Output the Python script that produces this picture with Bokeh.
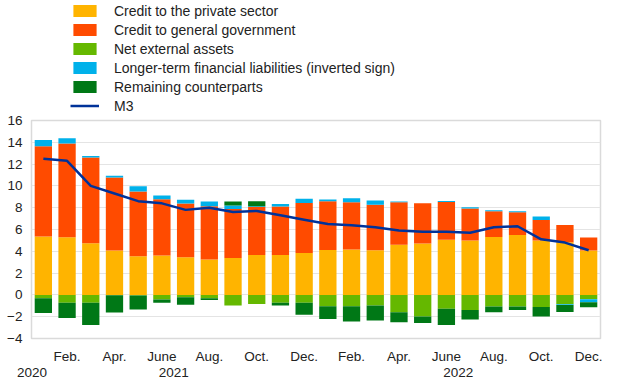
import numpy as np
from bokeh.plotting import figure
from bokeh.layouts import column
from bokeh.models import (ColumnDataSource, Range1d, FixedTicker, LinearAxis,
                          Legend, LegendItem)
from bokeh.embed import file_html
from bokeh.resources import INLINE

# ---- data (annual growth contributions, percentage points) ----
month_index = list(range(24))  # Jan 2021 ... Dec 2022
month_ticks = [1, 3, 5, 7, 9, 11, 13, 15, 17, 19, 21, 23]
month_labels = ["Feb.", "Apr.", "June", "Aug.", "Oct.", "Dec.",
                "Feb.", "Apr.", "June", "Aug.", "Oct.", "Dec."]
year_ticks = [-0.48, 5.5, 17.5]
year_labels = ["2020", "2021", "2022"]
y_ticks = [-4, -2, 0, 2, 4, 6, 8, 10, 12, 14, 16]

private_sector = [5.35, 5.29, 4.74, 4.07, 3.55, 3.61, 3.46, 3.24, 3.39, 3.67, 3.67, 3.85,
                  4.13, 4.16, 4.10, 4.59, 4.71, 5.05, 4.98, 5.32, 5.50, 4.98, 4.83, 4.07]
general_government = [8.29, 8.59, 7.86, 6.69, 5.93, 5.17, 4.92, 4.89, 4.50, 4.40, 4.43, 4.59,
                      4.46, 4.34, 4.16, 3.91, 3.70, 3.48, 2.94, 2.36, 2.08, 1.90, 1.59, 1.19]
net_external_assets = [-0.31, -0.73, -0.73, -0.03, -0.05, -0.43, -0.21, -0.31, -0.98, -0.83, -0.73, -0.73,
                       -1.04, -1.04, -0.98, -1.59, -1.99, -1.28, -1.38, -1.07, -1.07, -1.10, -0.86, -0.40]
longer_term_liabilities = [0.58, 0.49, 0.15, 0.18, 0.49, 0.34, 0.34, 0.43, 0.31, 0.06, 0.25, 0.37,
                           0.16, 0.37, 0.39, 0.06, 0.0, 0.09, 0.12, 0.09, 0.09, 0.31, -0.06, -0.28]
remaining_counterparts = [-1.34, -1.38, -2.02, -1.59, -1.28, -0.30, -0.70, -0.15, 0.37, 0.46, -0.25, -1.10,
                          -1.16, -1.41, -1.37, -0.92, -0.58, -1.47, -0.88, -0.52, -0.31, -0.89, -0.64, -0.45]
m3 = [12.5, 12.3, 10.0, 9.3, 8.6, 8.4, 7.8, 8.0, 7.6, 7.7, 7.3, 6.9,
      6.5, 6.4, 6.2, 5.9, 5.8, 5.8, 5.7, 6.2, 6.3, 5.1, 4.8, 4.1]

series = [
    ("Credit to the private sector", private_sector, "#FFB400"),
    ("Credit to general government", general_government, "#FF4B00"),
    ("Net external assets", net_external_assets, "#65B800"),
    ("Longer-term financial liabilities (inverted sign)", longer_term_liabilities, "#00B1EA"),
    ("Remaining counterparts", remaining_counterparts, "#007816"),
]
M3_COLOR = "#003299"

FONT = "Liberation Sans"
TXT = "#222222"

# ---------------- main chart ----------------
p = figure(width=620, height=275, output_backend="svg", toolbar_location=None,
           x_range=Range1d(-0.5, 23.5), y_range=Range1d(-4, 16),
           min_border_left=31, min_border_right=20, min_border_bottom=49, min_border_top=8)
p.background_fill_color = "white"
p.border_fill_color = "white"
p.outline_line_color = "#dadada"
p.outline_line_width = 1.5

x = np.array(month_index, dtype=float)
pos_base = np.zeros(24)
neg_base = np.zeros(24)
for name, vals, color in series:
    v = np.array(vals, dtype=float)
    bottom = np.where(v >= 0, pos_base, neg_base + v)
    top = np.where(v >= 0, pos_base + v, neg_base)
    pos_base = pos_base + np.where(v >= 0, v, 0)
    neg_base = neg_base + np.where(v < 0, v, 0)
    src = ColumnDataSource(dict(x=x, bottom=bottom, top=top))
    p.vbar(x="x", bottom="bottom", top="top", width=0.73, source=src,
           fill_color=color, line_color=None)

p.line(x, m3, line_color=M3_COLOR, line_width=2.5)

p.xgrid.grid_line_color = None
p.ygrid.grid_line_color = "#e4e4e4"
p.ygrid.grid_line_width = 1
p.yaxis.ticker = FixedTicker(ticks=y_ticks)
p.xaxis.ticker = FixedTicker(ticks=month_ticks)
p.xaxis.major_label_overrides = {t: l for t, l in zip(month_ticks, month_labels)}
for ax in (p.xaxis[0], p.yaxis[0]):
    ax.axis_line_color = None
    ax.major_tick_line_color = None
    ax.minor_tick_line_color = None
    ax.major_tick_out = 0
    ax.major_tick_in = 0
    ax.minor_tick_out = 0
    ax.minor_tick_in = 0
    ax.major_label_text_font = FONT
    ax.major_label_text_font_size = "13.5px"
    ax.major_label_text_color = TXT
p.yaxis.major_label_standoff = 9
p.xaxis.major_label_standoff = 10

year_axis = LinearAxis(ticker=FixedTicker(ticks=year_ticks),
                       major_label_overrides={t: l for t, l in zip(year_ticks, year_labels)},
                       axis_line_color=None, major_tick_line_color=None,
                       minor_tick_line_color=None, major_tick_out=0, major_tick_in=0,
                       minor_tick_out=0, minor_tick_in=0, major_label_standoff=1,
                       major_label_text_font=FONT, major_label_text_font_size="13.5px",
                       major_label_text_color=TXT)
p.add_layout(year_axis, "below")

# ---------------- legend strip ----------------
lg = figure(width=620, height=112, output_backend="svg", toolbar_location=None,
            x_range=Range1d(0, 1), y_range=Range1d(0, 1),
            x_axis_type=None, y_axis_type=None,
            min_border_left=0, min_border_right=0, min_border_top=0, min_border_bottom=0)
lg.outline_line_color = None
lg.xgrid.grid_line_color = None
lg.ygrid.grid_line_color = None
lg.background_fill_color = "white"
lg.border_fill_color = "white"

# legend proxies: zero-height bar / zero-length line (nothing visible in the strip)
items = []
for name, vals, color in series:
    r = lg.vbar(x=[0], bottom=[0], top=[0], width=0.0, fill_color=color, line_color=None)
    items.append(LegendItem(label=name, renderers=[r]))
rl = lg.line(x=[0, 0], y=[0, 0], line_color=M3_COLOR, line_width=2.5, line_alpha=1)
items.append(LegendItem(label="M3", renderers=[rl]))

legend = Legend(items=items, location=(39, -3), orientation="vertical",
                padding=0, margin=0, spacing=0, label_height=19,
                glyph_height=15, glyph_width=29, label_standoff=15,
                label_text_font=FONT, label_text_font_size="14px",
                label_text_color=TXT, border_line_alpha=0,
                background_fill_alpha=0)
lg.add_layout(legend, "center")

layout = column(lg, p, spacing=0)
open("out.html", "w").write(file_html(layout, INLINE))
